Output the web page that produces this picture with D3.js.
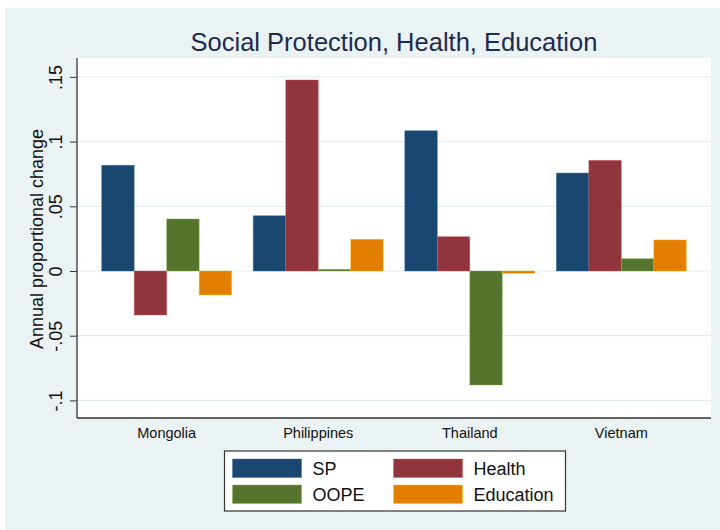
<!DOCTYPE html>
<html>
<head>
<meta charset="utf-8">
<script src="https://cdn.jsdelivr.net/npm/d3@7"></script>
<style>
  body { margin: 0; background: #ffffff; }
  svg { display: block; font-family: "Liberation Sans", Arial, Helvetica, sans-serif; }
</style>
</head>
<body>
<svg id="chart" width="720" height="530"></svg>
<script>
const countries = ["Mongolia", "Philippines", "Thailand", "Vietnam"];
const seriesNames = ["SP", "Health", "OOPE", "Education"];
const spValues = [0.0817, 0.0427, 0.1084, 0.0757];
const healthValues = [-0.0340, 0.1476, 0.0265, 0.0855];
const oopeValues = [0.0402, 0.0013, -0.0881, 0.0095];
const educationValues = [-0.0185, 0.0245, -0.0018, 0.0240];
const yTicks = [-0.1, -0.05, 0, 0.05, 0.1, 0.15];
const yTickLabels = ["-.1", "-.05", "0", ".05", ".1", ".15"];
const colors = ["#1a476f", "#90353b", "#55752f", "#e37e00"];
const title = "Social Protection, Health, Education";
const yTitle = "Annual proportional change";

const seriesValues = [spValues, healthValues, oopeValues, educationValues];
const rows = [];
countries.forEach((c, i) => seriesNames.forEach((s, j) => rows.push({country: c, series: s, value: seriesValues[j][i]})));

const svg = d3.select("#chart");
svg.append("rect").attr("x", 5).attr("y", 8).attr("width", 715).attr("height", 522).attr("fill", "#eaf2f3");

const plot = {left: 77, right: 711, top: 58, bottom: 418};
svg.append("rect").attr("x", plot.left).attr("y", plot.top)
  .attr("width", plot.right - plot.left).attr("height", plot.bottom - plot.top).attr("fill", "#ffffff");

const y = d3.scaleLinear().domain([-0.1136, 0.1646]).range([plot.bottom, plot.top]);
const x0 = d3.scaleBand().domain(countries).range([plot.left, plot.right]).paddingInner(0.1425).paddingOuter(0.163);
const x1 = d3.scaleBand().domain(seriesNames).range([0, x0.bandwidth()]).padding(0);
const color = d3.scaleOrdinal().domain(seriesNames).range(colors);

svg.append("g").selectAll("line").data(yTicks).join("line")
  .attr("x1", plot.left).attr("x2", plot.right)
  .attr("y1", d => y(d)).attr("y2", d => y(d))
  .attr("stroke", "#e4eef0").attr("stroke-width", 1.2);

svg.append("g").selectAll("rect").data(rows).join("rect")
  .attr("x", d => x0(d.country) + x1(d.series))
  .attr("width", x1.bandwidth())
  .attr("y", d => y(Math.max(0, d.value)))
  .attr("height", d => Math.max(1, Math.abs(y(d.value) - y(0))))
  .attr("fill", d => color(d.series))
  .attr("stroke", d => d3.color(color(d.series)).brighter(1.2))
  .attr("stroke-opacity", 0.5)
  .attr("stroke-width", 0.8);

const yAxis = d3.axisLeft(y).tickValues(yTicks).tickFormat((d, i) => yTickLabels[i]).tickSize(7).tickPadding(4);
const gy = svg.append("g").attr("transform", `translate(${plot.left},0)`).call(yAxis);
gy.select(".domain").attr("d", `M0,${plot.top}V${plot.bottom}`).attr("stroke", "#333").attr("stroke-width", 1.3);
gy.selectAll(".tick line").attr("stroke", "#333").attr("stroke-width", 1);
gy.selectAll(".tick text")
  .attr("transform", "rotate(-90)")
  .attr("x", 0).attr("y", -15)
  .attr("dy", "0")
  .attr("text-anchor", "middle")
  .attr("font-size", 18)
  .attr("fill", "#111")
  .attr("font-family", "Liberation Sans, Arial, sans-serif");

const xAxis = d3.axisBottom(x0).tickSize(0).tickPadding(10);
const gx = svg.append("g").attr("transform", `translate(0,${plot.bottom})`).call(xAxis);
gx.select(".domain").attr("d", `M${plot.left},0H${plot.right}`).attr("stroke", "#333").attr("stroke-width", 1.3);
gx.selectAll(".tick text").attr("font-size", 14.5).attr("fill", "#111").attr("dy", "0.71em")
  .attr("font-family", "Liberation Sans, Arial, sans-serif");

svg.append("text").attr("transform", `translate(43,${(plot.top + plot.bottom) / 2 + 1}) rotate(-90)`)
  .attr("text-anchor", "middle").attr("font-size", 18).attr("fill", "#111").text(yTitle);

svg.append("text").attr("x", (plot.left + plot.right) / 2).attr("y", 51)
  .attr("text-anchor", "middle").attr("font-size", 25.5).attr("fill", "#1e2b50").text(title);

const legend = svg.append("g");
legend.append("rect").attr("x", 224.5).attr("y", 451).attr("width", 341).attr("height", 60)
  .attr("fill", "#ffffff").attr("stroke", "#333").attr("stroke-width", 1.2);
const lx = [232.5, 393.5];
const ly = [459, 485];
seriesNames.forEach((s, i) => {
  const cx = lx[i % 2], cy = ly[Math.floor(i / 2)];
  legend.append("rect").attr("x", cx).attr("y", cy).attr("width", 69).attr("height", 18.5)
    .attr("fill", color(s)).attr("stroke", d3.color(color(s)).brighter(1.2)).attr("stroke-opacity", 0.5).attr("stroke-width", 0.8);
  legend.append("text").attr("x", cx + 80).attr("y", cy + 16).attr("font-size", 18).attr("fill", "#111").text(s);
});
</script>
</body>
</html>
